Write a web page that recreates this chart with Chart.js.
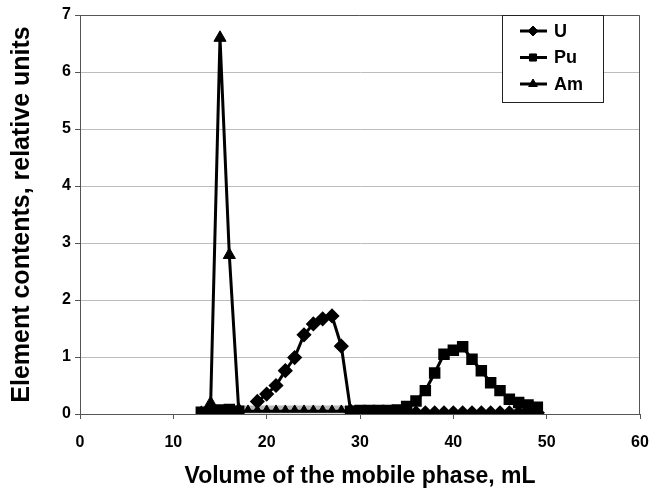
<!DOCTYPE html>
<html>
<head>
<meta charset="utf-8">
<script src="https://cdn.jsdelivr.net/npm/chart.js@4/dist/chart.umd.min.js"></script>
<style>
  html, body { margin: 0; padding: 0; background: #fff; }
  #wrap { width: 655px; height: 488px; }
</style>
</head>
<body>
<div id="wrap"><canvas id="elutionChart" width="655" height="488"></canvas></div>
<script>
// dữ liệu (thể tích pha động, mL)
const uVolume = [19, 20, 21, 22, 23, 24, 25, 26, 27, 28, 29, 30, 31, 32, 33, 34, 35, 36, 37, 38, 39, 40, 41, 42, 43, 44, 45, 46, 47, 48, 49];
const uContent = [0.22, 0.35, 0.50, 0.76, 0.99, 1.39, 1.58, 1.67, 1.72, 1.19, 0.05, 0.02, 0.02, 0.02, 0.02, 0.02, 0.02, 0.02, 0.02, 0.02, 0.02, 0.02, 0.02, 0.02, 0.02, 0.02, 0.02, 0.02, 0.02, 0.02, 0.02];

const puVolume = [13, 14, 15, 16, 17, 29, 30, 31, 32, 33, 34, 35, 36, 37, 38, 39, 40, 41, 42, 43, 44, 45, 46, 47, 48, 49];
const puContent = [0.03, 0.05, 0.07, 0.08, 0.05, 0.05, 0.06, 0.06, 0.06, 0.06, 0.07, 0.13, 0.23, 0.41, 0.72, 1.05, 1.12, 1.18, 0.96, 0.76, 0.55, 0.41, 0.26, 0.20, 0.16, 0.12];

const amVolume = [13, 14, 15, 16, 17, 18, 19, 20, 21, 22, 23, 24, 25, 26, 27, 28, 29];
const amContent = [0.02, 0.19, 6.60, 2.79, 0.08, 0.08, 0.08, 0.08, 0.08, 0.08, 0.08, 0.08, 0.08, 0.08, 0.08, 0.08, 0.06];

// đoạn Am vẽ dải xám (từ 17 đến 29 mL)
const amShadeFrom = 17;
const amShadeTo = 29;

const xTicks = [0, 10, 20, 30, 40, 50, 60];
const yTicks = [0, 1, 2, 3, 4, 5, 6, 7];

const seriesNames = ['U', 'Pu', 'Am'];

function toPoints(xs, ys) {
    return xs.map((x, i) => ({ x: x, y: ys[i] }));
}

function inShade(c) {
    return c.p0.parsed.x >= amShadeFrom && c.p1.parsed.x <= amShadeTo;
}

function pointInShade(c) {
    const v = amVolume[c.dataIndex];
    return v > amShadeFrom && v <= amShadeTo;
}

const boldFont = { family: "'Liberation Sans', Arial, sans-serif", weight: 'bold' };

// Khung viền + chú giải vẽ tay
const framePlugin = {
    id: 'frame',
    afterDraw(chart) {
        const ctx = chart.ctx;
        const a = chart.chartArea;
        ctx.save();
        ctx.strokeStyle = '#555';
        ctx.lineWidth = 1;
        ctx.beginPath();
        ctx.moveTo(a.left, a.top + 0.5);
        ctx.lineTo(a.right - 0.5, a.top + 0.5);
        ctx.lineTo(a.right - 0.5, a.bottom);
        ctx.stroke();

        // chú giải
        const bx = 502, by = 15, bw = 101, bh = 87;
        ctx.fillStyle = '#fff';
        ctx.fillRect(bx, by, bw, bh);
        ctx.strokeStyle = '#222';
        ctx.strokeRect(bx + 0.5, by + 0.5, bw, bh);
        chart.data.datasets.forEach((ds, i) => {
            const y = by + 16 + i * 26.5;
            ctx.strokeStyle = '#000';
            ctx.fillStyle = '#000';
            ctx.lineWidth = 3;
            ctx.beginPath();
            ctx.moveTo(bx + 18, y);
            ctx.lineTo(bx + 45, y);
            ctx.stroke();
            ctx.lineWidth = 1;
            Chart.helpers.drawPoint(ctx, {
                pointStyle: ds.pointStyle,
                radius: 5,
                rotation: 0,
                borderWidth: 1
            }, bx + 31, y);
            ctx.fillStyle = '#000';
            ctx.font = "bold 18px 'Liberation Sans', Arial, sans-serif";
            ctx.textBaseline = 'middle';
            ctx.textAlign = 'left';
            ctx.fillText(ds.label, bx + 52, y + 1);
        });
        ctx.restore();
    }
};

const ctx = document.getElementById('elutionChart').getContext('2d');

const elutionChart = new Chart(ctx, {
    type: 'line',
    data: {
        datasets: [{
            label: seriesNames[0],
            data: toPoints(uVolume, uContent),
            borderColor: '#000',
            backgroundColor: '#000',
            borderWidth: 3,
            pointStyle: 'rectRot',
            pointRadius: 5.5,
            pointBorderColor: '#000',
            pointBackgroundColor: '#000',
            fill: false
        }, {
            label: seriesNames[1],
            data: toPoints(puVolume, puContent),
            borderColor: '#000',
            backgroundColor: '#000',
            borderWidth: 3,
            pointStyle: 'rect',
            pointRadius: 6,
            pointBorderColor: '#000',
            pointBackgroundColor: '#000',
            fill: false
        }, {
            label: seriesNames[2],
            data: toPoints(amVolume, amContent),
            borderColor: '#000',
            backgroundColor: '#000',
            borderWidth: 3,
            pointStyle: 'triangle',
            pointRadius: c => pointInShade(c) ? 4.5 : 7,
            pointBorderWidth: 1,
            pointBorderColor: '#000',
            pointBackgroundColor: '#000',
            fill: false,
            segment: {
                borderColor: c => inShade(c) ? '#b9b9b9' : '#000',
                borderWidth: c => inShade(c) ? 8 : 3
            }
        }]
    },
    options: {
        responsive: false,
        animation: false,
        layout: { padding: { top: 15, right: 15, left: 0, bottom: 0 } },
        plugins: {
            legend: { display: false },
            tooltip: { enabled: false }
        },
        scales: {
            x: {
                type: 'linear',
                min: 0,
                max: 60,
                afterBuildTicks: s => { s.ticks = xTicks.map(v => ({ value: v })); },
                afterFit: s => { s.height = 74; s.paddingLeft = 0; s.paddingRight = 0; },
                grid: { drawOnChartArea: false, color: '#555', tickLength: 5 },
                border: { color: '#555', width: 1 },
                ticks: { color: '#000', font: { ...boldFont, size: 16 }, padding: 14 },
                title: {
                    display: true,
                    text: 'Volume of the mobile phase, mL',
                    color: '#000',
                    font: { ...boldFont, size: 23, lineHeight: 1 },
                    padding: { top: 0, bottom: 0 }
                }
            },
            y: {
                min: 0,
                max: 7,
                afterBuildTicks: s => { s.ticks = yTicks.map(v => ({ value: v })); },
                afterFit: s => { s.width = 80; },
                grid: { color: '#bdbdbd', tickColor: '#555', tickLength: 5 },
                border: { color: '#555', width: 1 },
                ticks: { color: '#000', font: { ...boldFont, size: 16 }, padding: 4 },
                title: {
                    display: true,
                    text: 'Element contents, relative units',
                    color: '#000',
                    font: { ...boldFont, size: 25, lineHeight: 1 },
                    padding: { top: 10, bottom: 0 }
                }
            }
        }
    },
    plugins: [framePlugin]
});
</script>
</body>
</html>
